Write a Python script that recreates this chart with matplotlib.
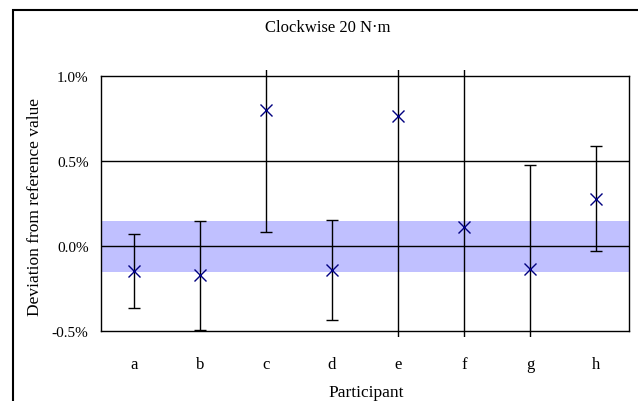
import matplotlib
matplotlib.use("Agg")
import matplotlib.pyplot as plt
from matplotlib.patches import Rectangle
from matplotlib.ticker import FuncFormatter

participants = ["a", "b", "c", "d", "e", "f", "g", "h"]
deviation = [-0.147, -0.173, 0.80, -0.14, 0.762, 0.113, -0.134, 0.278]
uncertainty = [0.215, 0.32, 0.72, 0.295, 1.6, 1.2, 0.608, 0.31]
band_half_width = 0.15
title = "Clockwise 20 N\u00b7m"

plt.rcParams['font.family'] = ['Liberation Serif', 'DejaVu Serif']

fig = plt.figure(figsize=(6.38, 4.02), dpi=100)
ax = fig.add_axes([101/638, (402-332)/402, 528/638, 255/402])

x = list(range(len(participants)))
ax.axhspan(-band_half_width, band_half_width, color='#c0c0ff', lw=0, zorder=1)
for yv in (0.0, 0.5):
    ax.axhline(yv, color='black', lw=1.0, zorder=2)

eb = ax.errorbar(x, deviation, yerr=uncertainty, fmt='none', ecolor='black',
                 elinewidth=1.0, capsize=4, capthick=1.0, zorder=3)
clip = Rectangle((0, -0.024), 1, 1.048, transform=ax.transAxes)
for art in list(eb.lines[1]) + list(eb.lines[2]):
    art.set_clip_on(True)
    art.set_clip_path(clip)
ax.plot(x, deviation, linestyle='none', marker='x', color='#000080',
        markersize=8, markeredgewidth=1.0, zorder=4)

ax.set_xlim(-0.5, len(participants) - 0.5)
ax.set_ylim(-0.5, 1.0)
ax.set_yticks([-0.5, 0.0, 0.5, 1.0])
ax.yaxis.set_major_formatter(FuncFormatter(lambda v, p: f"{v:.1f}%"))
ax.set_xticks(x)
ax.set_xticklabels(participants)
ax.tick_params(axis='x', length=0, labelsize=12, pad=18)
ax.tick_params(axis='y', length=0, labelsize=11, pad=9)
for s in ax.spines.values():
    s.set_linewidth(1.0)
    s.set_color('black')

ax.set_xlabel("Participant", fontsize=12.5)
ax.xaxis.set_label_coords(0.502, -0.239)
ax.xaxis.label.set_va('center')
ax.set_ylabel("Deviation from reference value", fontsize=12.5)
ax.yaxis.set_label_coords(-0.125, 0.49)
ax.yaxis.label.set_va('center')
fig.text(328/638, 1 - 28/402, title, ha='center', va='center', fontsize=12)

frame = Rectangle((13/638, -0.1), 1.1, 1 - 11/402 + 0.1, transform=fig.transFigure,
                  fill=False, edgecolor='black', lw=1.5, clip_on=False)
fig.patches.append(frame)

fig.savefig("out.png", dpi=100)
